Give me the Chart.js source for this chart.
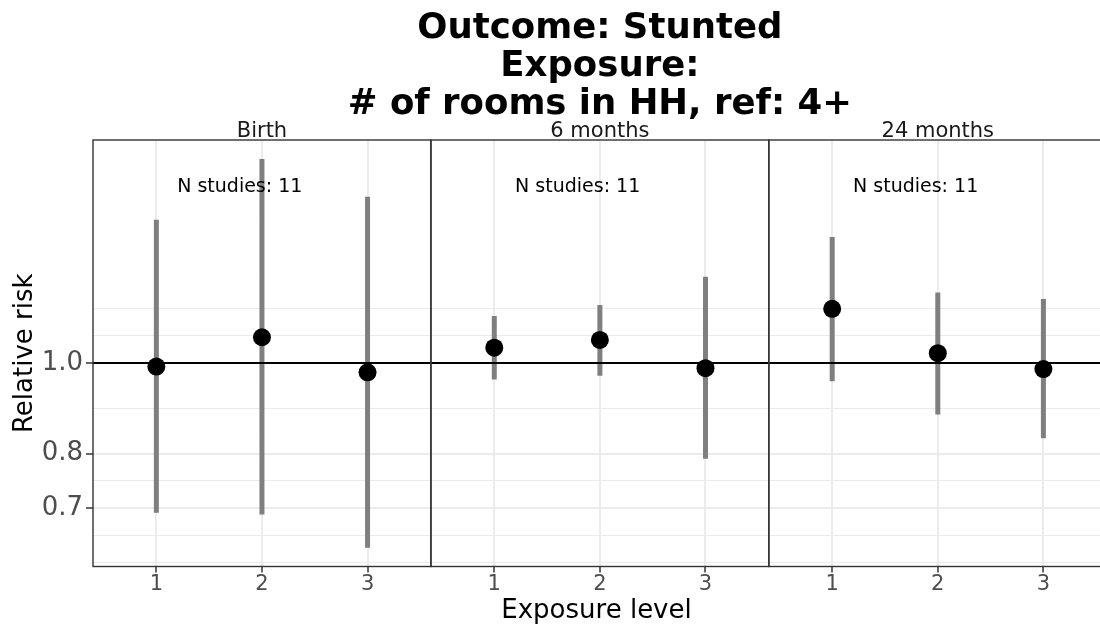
<!DOCTYPE html>
<html>
<head>
<meta charset="utf-8">
<script src="https://cdn.jsdelivr.net/npm/chart.js@4.4.1/dist/chart.umd.min.js"></script>
<style>
  html, body { margin: 0; padding: 0; background: #fff; overflow: hidden; }
</style>
</head>
<body>
<canvas id="chart" width="1100" height="629"></canvas>
<script>
// facets, exposure levels, annotation
const panels = ['Birth', '6 months', '24 months'];
const levels = [1, 2, 3];
const nStudies = [11, 11, 11];
const titleLines = ['Outcome: Stunted', 'Exposure:', '# of rooms in HH, ref: 4+'];

// relative risk with 95% CI, one set per facet (levels 1..3)
const estBirth = [0.991, 1.065, 0.977];
const lowBirth = [0.692, 0.689, 0.635];
const highBirth = [1.421, 1.650, 1.504];

const est6m = [1.038, 1.058, 0.987];
const low6m = [0.960, 0.969, 0.790];
const high6m = [1.122, 1.153, 1.236];

const est24m = [1.142, 1.024, 0.985];
const low24m = [0.956, 0.881, 0.831];
const high24m = [1.362, 1.189, 1.170];

// y axis breaks (log scale)
const yBreaks = [0.7, 0.8, 1.0];
const yMin = 0.6064, yMax = 1.729;

const estimates = [estBirth, est6m, est24m];
const lowers = [lowBirth, low6m, low24m];
const uppers = [highBirth, high6m, high24m];

// each facet takes 3.2 units of the shared x axis (discrete range 0.4..3.6)
const PANEL_W = 3.2;
const xPos = (p, lvl) => p * PANEL_W + lvl;
const xMin = 0.4;
const xFull = panels.length * PANEL_W + 0.4;
const xMax = xFull - 0.064; // last panel is cut off a few px at the right edge

// minor grid: ggplot extends breaks by the first step and takes midpoints (log space)
const step = Math.log(yBreaks[1]) - Math.log(yBreaks[0]);
const extLow = Math.exp(Math.log(yBreaks[0]) - step);
const extHigh = Math.exp(Math.log(yBreaks[yBreaks.length - 1]) + step);
const allB = [extLow, ...yBreaks, extHigh];
const yMinor = [extLow, extHigh];
for (let i = 0; i < allB.length - 1; i++) yMinor.push(Math.sqrt(allB[i] * allB[i + 1]));
const yGrid = [...yBreaks, ...yMinor].sort((a, b) => a - b);
const isMajor = v => yBreaks.some(b => Math.abs(b - v) < 1e-6);

// data sets
const pointData = [];
const barData = [];
panels.forEach((name, p) => {
  levels.forEach((lvl, i) => {
    pointData.push({ x: xPos(p, lvl), y: estimates[p][i] });
    barData.push({ x: xPos(p, lvl), y: lowers[p][i] });
    barData.push({ x: xPos(p, lvl), y: uppers[p][i] });
    barData.push({ x: xPos(p, lvl), y: null });
  });
});
const xTicks = [];
const xTickLabels = [];
panels.forEach((name, p) => levels.forEach(lvl => {
  xTicks.push(xPos(p, lvl));
  xTickLabels.push(String(lvl));
}));

const FONT = "'DejaVu Sans', sans-serif";

const facetPlugin = {
  id: 'facets',
  afterDatasetsDraw(chart) {
    const { ctx, chartArea, scales: { x, y } } = chart;
    ctx.save();
    panels.forEach((name, p) => {
      const x0 = x.getPixelForValue(p * PANEL_W + 0.4);
      const x1 = x.getPixelForValue(p * PANEL_W + 3.6);
      // panel border
      ctx.strokeStyle = '#333333';
      ctx.lineWidth = 1.4;
      ctx.strokeRect(x0, chartArea.top, x1 - x0, chartArea.bottom - chartArea.top);
      // strip label
      ctx.fillStyle = '#1a1a1a';
      ctx.font = '21px ' + FONT;
      ctx.textAlign = 'center';
      ctx.textBaseline = 'alphabetic';
      ctx.fillText(name, (x0 + x1) / 2, chartArea.top - 3);
      // N studies annotation
      ctx.fillStyle = '#000';
      ctx.font = '19px ' + FONT;
      ctx.fillText('N studies: ' + nStudies[p], x.getPixelForValue(p * PANEL_W + 1.79), y.getPixelForValue(1.522));
    });
    // title centred over the full panel strip
    ctx.fillStyle = '#000';
    ctx.font = 'bold 35.5px ' + FONT;
    ctx.textAlign = 'center';
    ctx.textBaseline = 'alphabetic';
    const cx = x.getPixelForValue((xMin + xFull) / 2);
    titleLines.forEach((t, i) => ctx.fillText(t, cx, 38 + i * 38));
    ctx.restore();
  }
};

new Chart(document.getElementById('chart'), {
  data: {
    datasets: [
      {
        type: 'scatter',
        data: pointData,
        order: 0,
        pointRadius: 9,
        pointBackgroundColor: '#000',
        pointBorderWidth: 0,
        pointHoverRadius: 9
      },
      {
        type: 'line',
        data: [{ x: xMin, y: 1 }, { x: xFull, y: 1 }],
        order: 1,
        borderColor: '#000',
        borderWidth: 2,
        pointRadius: 0
      },
      {
        type: 'line',
        data: barData,
        order: 2,
        borderColor: '#7f7f7f',
        borderWidth: 5,
        borderCapStyle: 'butt',
        spanGaps: false,
        pointRadius: 0
      }
    ]
  },
  options: {
    responsive: false,
    animation: false,
    devicePixelRatio: 1,
    layout: { autoPadding: false, padding: { top: 140, right: 0, left: 0, bottom: 0 } },
    plugins: { legend: { display: false }, tooltip: { enabled: false } },
    scales: {
      x: {
        type: 'linear',
        min: xMin,
        max: xMax,
        offset: false,
        afterBuildTicks: s => { s.ticks = xTicks.map(v => ({ value: v })); },
        afterFit: s => { s.height = 62.5; },
        ticks: {
          color: '#4d4d4d',
          font: { family: FONT, size: 21, lineHeight: 1 },
          padding: 2,
          autoSkip: false,
          maxRotation: 0,
          callback: (v, i) => xTickLabels[i]
        },
        grid: { color: '#ebebeb', lineWidth: 2, tickColor: '#333333', tickWidth: 1.5, tickLength: 6, offset: false },
        border: { display: false },
        title: {
          display: true,
          text: 'Exposure level',
          color: '#000',
          font: { family: FONT, size: 26, lineHeight: 1 },
          padding: { top: 2.5, bottom: 5 }
        }
      },
      y: {
        type: 'logarithmic',
        bounds: 'data',
        min: yMin,
        max: yMax,
        afterBuildTicks: s => { s.ticks = yGrid.map(v => ({ value: v })); },
        afterFit: s => { s.width = 93; },
        ticks: {
          color: '#4d4d4d',
          font: { family: FONT, size: 26 },
          padding: 3,
          autoSkip: false,
          callback: v => (isMajor(v) ? v.toFixed(1) : '')
        },
        grid: {
          color: '#ebebeb',
          lineWidth: c => (c.tick && isMajor(c.tick.value) ? 2 : 1),
          tickColor: c => (c.tick && isMajor(c.tick.value) ? '#333333' : 'rgba(0,0,0,0)'),
          tickWidth: 1.5,
          tickLength: 7
        },
        border: { display: false },
        title: {
          display: true,
          text: 'Relative risk',
          color: '#000',
          font: { family: FONT, size: 26 },
          padding: { top: 10, bottom: 0 }
        }
      }
    }
  },
  plugins: [facetPlugin]
});
</script>
</body>
</html>
